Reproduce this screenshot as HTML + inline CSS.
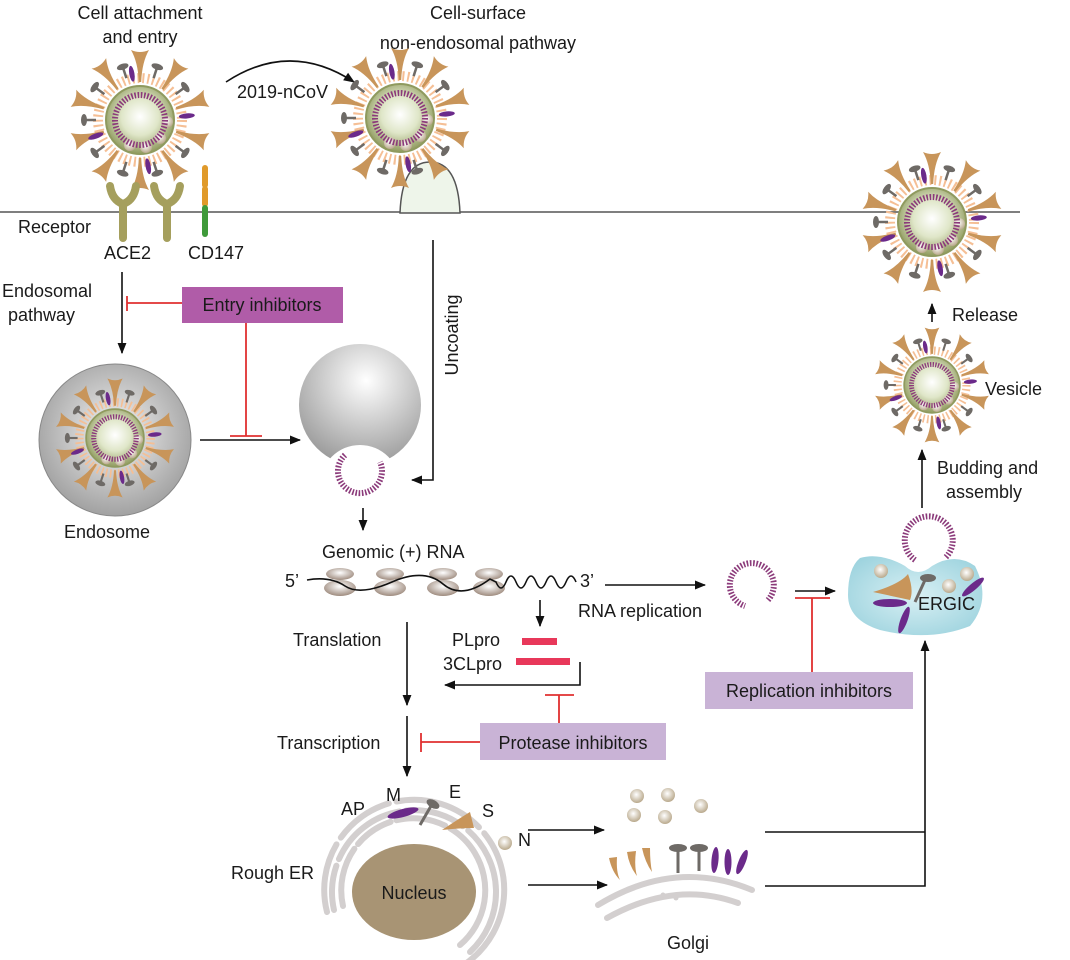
<!DOCTYPE html>
<html><head><meta charset="utf-8"><style>
html,body{margin:0;padding:0;background:#fff;}
svg{display:block;font-family:"Liberation Sans",Arial,sans-serif;}
text{font-size:18px;fill:#1a1a1a;}
</style></head><body>
<svg width="1070" height="960" viewBox="0 0 1070 960" xmlns="http://www.w3.org/2000/svg">
<defs>
<radialGradient id="core" cx="0.5" cy="0.45" r="0.55"><stop offset="0" stop-color="#ffffff"/><stop offset="0.5" stop-color="#dfe6c8"/><stop offset="1" stop-color="#8f9a5e"/></radialGradient>
<radialGradient id="ball" cx="0.45" cy="0.4" r="0.6"><stop offset="0" stop-color="#ffffff"/><stop offset="1" stop-color="#b9a98c"/></radialGradient>
<radialGradient id="endo" cx="0.5" cy="0.45" r="0.6"><stop offset="0" stop-color="#f4f4f4"/><stop offset="1" stop-color="#9a9a9a"/></radialGradient>
<radialGradient id="bowl" cx="0.55" cy="0.3" r="0.7"><stop offset="0" stop-color="#ffffff"/><stop offset="1" stop-color="#9c9c9c"/></radialGradient>
<radialGradient id="ergic" cx="0.5" cy="0.5" r="0.6"><stop offset="0" stop-color="#d9f0f4"/><stop offset="1" stop-color="#9fd4df"/></radialGradient>
<radialGradient id="rib" cx="0.5" cy="0.4" r="0.6"><stop offset="0" stop-color="#ffffff"/><stop offset="1" stop-color="#9e8b7e"/></radialGradient>
<path id="spk" d="M-1.2,-38 L1.2,-38 Q2,-58 9,-70 Q0,-66 -9,-70 Q-2,-58 -1.2,-38Z" fill="#c8955a"/>
<g id="epr"><line x1="0" y1="-44" x2="0" y2="-55" stroke="#6e6a66" stroke-width="2.5"/><ellipse cx="0" cy="-56" rx="6" ry="3" fill="#6e6a66"/></g>
<ellipse id="mpr" cx="0" cy="-47" rx="2.6" ry="8" fill="#6b2a8a"/>
<g id="virus">
<circle r="42" fill="none" stroke="#f5bf95" stroke-width="10" stroke-dasharray="2 3"/>
<use href="#spk"/><use href="#spk" transform="rotate(36)"/><use href="#spk" transform="rotate(72)"/><use href="#spk" transform="rotate(108)"/><use href="#spk" transform="rotate(144)"/><use href="#spk" transform="rotate(180)"/><use href="#spk" transform="rotate(216)"/><use href="#spk" transform="rotate(252)"/><use href="#spk" transform="rotate(288)"/><use href="#spk" transform="rotate(324)"/>
<use href="#epr" transform="rotate(18)"/><use href="#epr" transform="rotate(-18)"/><use href="#epr" transform="rotate(54)"/><use href="#epr" transform="rotate(126)"/><use href="#epr" transform="rotate(162)"/><use href="#epr" transform="rotate(198)"/><use href="#epr" transform="rotate(234)"/><use href="#epr" transform="rotate(270)"/><use href="#epr" transform="rotate(306)"/>
<use href="#mpr" transform="rotate(-10)"/><use href="#mpr" transform="rotate(85)"/><use href="#mpr" transform="rotate(170)"/><use href="#mpr" transform="rotate(250)"/>
<circle r="34" fill="url(#core)" stroke="#8f9a5e" stroke-width="2"/>
<circle cx="20" cy="18" r="6" fill="url(#ball)"/><circle cx="6" cy="27" r="6" fill="url(#ball)"/><circle cx="-10" cy="25" r="6" fill="url(#ball)"/><circle cx="27" cy="2" r="6" fill="url(#ball)"/>
<circle r="25" fill="none" stroke="#8b3a7a" stroke-width="6" stroke-dasharray="1.6 1.6"/>
</g>
<marker id="ah" viewBox="0 0 10 10" refX="9" refY="5" markerWidth="7" markerHeight="7" orient="auto"><path d="M0,1 L10,5 L0,9 Z" fill="#111"/></marker>
</defs>

<line x1="0" y1="212" x2="1020" y2="212" stroke="#555" stroke-width="1.6"/>
<path d="M400,213 Q402,162 430,162 Q458,162 460,213 Z" fill="#eef5ea" stroke="#555" stroke-width="1.5"/>

<text x="140" y="19" text-anchor="middle">Cell attachment</text>
<text x="140" y="43" text-anchor="middle">and entry</text>
<text x="478" y="19" text-anchor="middle">Cell-surface</text>
<text x="478" y="49" text-anchor="middle">non-endosomal pathway</text>
<path d="M226,82 Q290,40 354,82" fill="none" stroke="#111" stroke-width="1.6" marker-end="url(#ah)"/>
<text x="237" y="98" font-size="17">2019-nCoV</text>

<use href="#virus" transform="translate(140,120)"/>
<use href="#virus" transform="translate(400,118)"/>
<use href="#virus" transform="translate(932,222)"/>
<use href="#virus" transform="translate(932,385) scale(0.82)"/>

<g fill="none" stroke="#a59f5d" stroke-width="8" stroke-linecap="round">
<path d="M110,186 Q112,200 123,204 Q134,200 136,186 M123,204 L123,238"/>
<path d="M154,186 Q156,200 167,204 Q178,200 180,186 M167,204 L167,238"/>
</g>
<line x1="205" y1="168" x2="205" y2="185" stroke="#e09a2a" stroke-width="6" stroke-linecap="round"/>
<line x1="205" y1="189" x2="205" y2="204" stroke="#e09a2a" stroke-width="6" stroke-linecap="round"/>
<line x1="205" y1="208" x2="205" y2="234" stroke="#3f9a3a" stroke-width="6" stroke-linecap="round"/>
<text x="18" y="233" font-size="17">Receptor</text>
<text x="104" y="259" font-size="17">ACE2</text>
<text x="188" y="259" font-size="17">CD147</text>

<text x="2" y="297">Endosomal</text>
<text x="8" y="321">pathway</text>
<line x1="122" y1="272" x2="122" y2="353" stroke="#111" stroke-width="1.6" marker-end="url(#ah)"/>
<g stroke="#e03030" stroke-width="1.8" fill="none">
<line x1="127" y1="296" x2="127" y2="311"/><line x1="127" y1="303" x2="182" y2="303"/>
<line x1="246" y1="323" x2="246" y2="436"/><line x1="230" y1="436" x2="262" y2="436"/>
</g>
<rect x="182" y="287" width="161" height="36" fill="#b05ca8"/>
<text x="262" y="311" text-anchor="middle">Entry inhibitors</text>

<circle cx="115" cy="440" r="76" fill="url(#endo)" stroke="#888" stroke-width="1"/>
<use href="#virus" transform="translate(115,438) scale(0.85)"/>
<text x="64" y="538">Endosome</text>
<line x1="200" y1="440" x2="300" y2="440" stroke="#111" stroke-width="1.6" marker-end="url(#ah)"/>

<circle cx="360" cy="405" r="61" fill="url(#bowl)"/>
<circle cx="360" cy="485" r="40" fill="#fff"/>
<path d="M345,455 A22,22 0 1 0 380,462" fill="none" stroke="#8b3a7a" stroke-width="6" stroke-dasharray="1.6 1.6"/>

<path d="M433,240 L433,480 L412,480" fill="none" stroke="#111" stroke-width="1.6" marker-end="url(#ah)"/>
<text transform="translate(458,335) rotate(-90)" text-anchor="middle">Uncoating</text>

<line x1="363" y1="508" x2="363" y2="530" stroke="#111" stroke-width="1.6" marker-end="url(#ah)"/>
<text x="322" y="558" font-size="17">Genomic (+) RNA</text>
<text x="285" y="587">5’</text>
<g fill="url(#rib)">
<ellipse cx="340" cy="574" rx="14" ry="6"/><ellipse cx="340" cy="588" rx="16" ry="8"/>
<ellipse cx="390" cy="574" rx="14" ry="6"/><ellipse cx="390" cy="588" rx="16" ry="8"/>
<ellipse cx="443" cy="574" rx="14" ry="6"/><ellipse cx="443" cy="588" rx="16" ry="8"/>
<ellipse cx="489" cy="574" rx="14" ry="6"/><ellipse cx="489" cy="588" rx="16" ry="8"/>
</g>
<path d="M307,580 Q330,576 345,586 T392,582 T443,584 T490,579 L496,582 q5,12 10,0 t10,0 t10,0 t10,0 t10,0 t10,0 t10,0 t10,0" fill="none" stroke="#111" stroke-width="1.6"/>
<text x="580" y="587">3’</text>
<line x1="605" y1="585" x2="705" y2="585" stroke="#111" stroke-width="1.6" marker-end="url(#ah)"/>
<text x="578" y="617">RNA replication</text>
<path d="M768,600 A22,22 0 1 0 745,606" fill="none" stroke="#8b3a7a" stroke-width="6" stroke-dasharray="1.6 1.6"/>

<line x1="795" y1="591" x2="835" y2="591" stroke="#111" stroke-width="1.6" marker-end="url(#ah)"/>
<g stroke="#e03030" stroke-width="1.8"><line x1="795" y1="598" x2="830" y2="598"/><line x1="812" y1="598" x2="812" y2="672"/></g>
<rect x="705" y="672" width="208" height="37" fill="#c9b3d6"/>
<text x="809" y="697" text-anchor="middle">Replication inhibitors</text>

<path d="M860,558 Q880,552 905,566 Q918,578 932,566 Q955,552 975,566 Q992,600 970,626 Q930,642 880,630 Q848,620 848,595 Q848,568 860,558Z" fill="url(#ergic)"/>
<path d="M915,560 A24,24 0 1 1 945,558" fill="none" stroke="#8b3a7a" stroke-width="6" stroke-dasharray="1.6 1.6"/>
<circle cx="881" cy="571" r="7" fill="url(#ball)"/><circle cx="949" cy="586" r="7" fill="url(#ball)"/><circle cx="967" cy="574" r="7" fill="url(#ball)"/>
<path d="M873,592 Q900,584 908,574 Q914,590 910,600Z" fill="#c8955a"/>
<line x1="915" y1="602" x2="925" y2="580" stroke="#6e6a66" stroke-width="3"/><ellipse cx="928" cy="578" rx="8" ry="4" fill="#6e6a66"/>
<ellipse cx="890" cy="603" rx="17" ry="4" fill="#6b2a8a"/>
<ellipse cx="904" cy="620" rx="3.5" ry="14" fill="#6b2a8a" transform="rotate(20 904 620)"/>
<ellipse cx="973" cy="587" rx="3.5" ry="14" fill="#6b2a8a" transform="rotate(50 973 587)"/>
<text x="918" y="610">ERGIC</text>

<line x1="922" y1="508" x2="922" y2="450" stroke="#111" stroke-width="1.6" marker-end="url(#ah)"/>
<text x="937" y="474">Budding and</text>
<text x="946" y="498">assembly</text>
<text x="985" y="395">Vesicle</text>
<line x1="932" y1="322" x2="932" y2="304" stroke="#111" stroke-width="1.6" marker-end="url(#ah)"/>
<text x="952" y="321">Release</text>

<text x="293" y="646">Translation</text>
<line x1="407" y1="622" x2="407" y2="705" stroke="#111" stroke-width="1.6" marker-end="url(#ah)"/>
<line x1="540" y1="600" x2="540" y2="626" stroke="#111" stroke-width="1.6" marker-end="url(#ah)"/>
<text x="452" y="646">PLpro</text>
<rect x="522" y="638" width="35" height="7" fill="#e8385a"/>
<text x="443" y="670">3CLpro</text>
<rect x="516" y="658" width="54" height="7" fill="#e8385a"/>
<path d="M580,662 L580,685 L445,685" fill="none" stroke="#111" stroke-width="1.6" marker-end="url(#ah)"/>
<g stroke="#e03030" stroke-width="1.8"><line x1="545" y1="695" x2="574" y2="695"/><line x1="559" y1="695" x2="559" y2="723"/>
<line x1="421" y1="733" x2="421" y2="752"/><line x1="421" y1="742" x2="480" y2="742"/></g>
<rect x="480" y="723" width="186" height="37" fill="#c9b3d6"/>
<text x="573" y="749" text-anchor="middle">Protease inhibitors</text>
<text x="277" y="749">Transcription</text>
<line x1="407" y1="716" x2="407" y2="776" stroke="#111" stroke-width="1.6" marker-end="url(#ah)"/>

<g fill="none" stroke="#d3cfcf" stroke-width="6" stroke-linecap="round">
<path d="M343,906 A72,72 0 1 1 460,945" stroke-dasharray="60 6 40 6 50 6 200"/>
<path d="M334,910 A82,82 0 1 1 470,952" stroke-dasharray="45 7 80 7 60 7 250"/>
<path d="M327,912 A90,90 0 1 1 440,976" stroke-dasharray="70 8 60 8 90 8 250"/>
</g>
<ellipse cx="414" cy="892" rx="62" ry="48" fill="#a89474"/>
<text x="414" y="899" text-anchor="middle">Nucleus</text>
<text x="231" y="879">Rough ER</text>
<text x="341" y="815" font-size="17">AP</text>
<text x="386" y="801" font-size="17">M</text>
<text x="449" y="798" font-size="17">E</text>
<text x="482" y="817" font-size="17">S</text>
<text x="518" y="846" font-size="17">N</text>
<ellipse cx="403" cy="813" rx="16" ry="4" fill="#6b2a8a" transform="rotate(-15 403 813)"/>
<line x1="420" y1="825" x2="431" y2="806" stroke="#6e6a66" stroke-width="3"/><ellipse cx="433" cy="804" rx="7" ry="4" fill="#6e6a66" transform="rotate(30 433 804)"/>
<path d="M442,830 Q460,818 470,812 L474,828 Q460,828 442,830Z" fill="#c8955a"/>
<circle cx="505" cy="843" r="7" fill="url(#ball)"/>

<line x1="528" y1="830" x2="604" y2="830" stroke="#111" stroke-width="1.6" marker-end="url(#ah)"/>
<line x1="528" y1="885" x2="607" y2="885" stroke="#111" stroke-width="1.6" marker-end="url(#ah)"/>
<circle cx="637" cy="796" r="7" fill="url(#ball)"/><circle cx="668" cy="795" r="7" fill="url(#ball)"/><circle cx="701" cy="806" r="7" fill="url(#ball)"/><circle cx="634" cy="815" r="7" fill="url(#ball)"/><circle cx="665" cy="817" r="7" fill="url(#ball)"/>

<g fill="none" stroke="#d3cfcf" stroke-width="6" stroke-linecap="round">
<path d="M598,905 Q675,858 752,890"/>
<path d="M607,918 Q675,880 738,903"/>
</g>
<circle cx="663" cy="895" r="2.5" fill="#d3cfcf"/><circle cx="676" cy="898" r="2.5" fill="#d3cfcf"/>
<g fill="#c8955a">
<path d="M609,858 L617,857 Q616,872 620,880 Q612,872 609,858Z"/>
<path d="M627,852 L636,851 Q634,866 637,876 Q629,866 627,852Z"/>
<path d="M642,848 L650,848 Q650,862 652,872 Q645,862 642,848Z"/>
</g>
<g stroke="#6e6a66" stroke-width="3"><line x1="678" y1="849" x2="678" y2="873"/><line x1="699" y1="849" x2="699" y2="871"/></g>
<ellipse cx="678" cy="848" rx="9" ry="4" fill="#6e6a66"/><ellipse cx="699" cy="848" rx="9" ry="4" fill="#6e6a66"/>
<ellipse cx="715" cy="860" rx="3.5" ry="13" fill="#6b2a8a" transform="rotate(5 715 860)"/>
<ellipse cx="728" cy="862" rx="3.5" ry="13" fill="#6b2a8a"/>
<ellipse cx="742" cy="862" rx="3.5" ry="13" fill="#6b2a8a" transform="rotate(22 742 862)"/>
<text x="667" y="949">Golgi</text>

<path d="M765,832 L925,832" fill="none" stroke="#111" stroke-width="1.6"/>
<path d="M765,886 L925,886 L925,641" fill="none" stroke="#111" stroke-width="1.6" marker-end="url(#ah)"/>
</svg>
</body></html>
